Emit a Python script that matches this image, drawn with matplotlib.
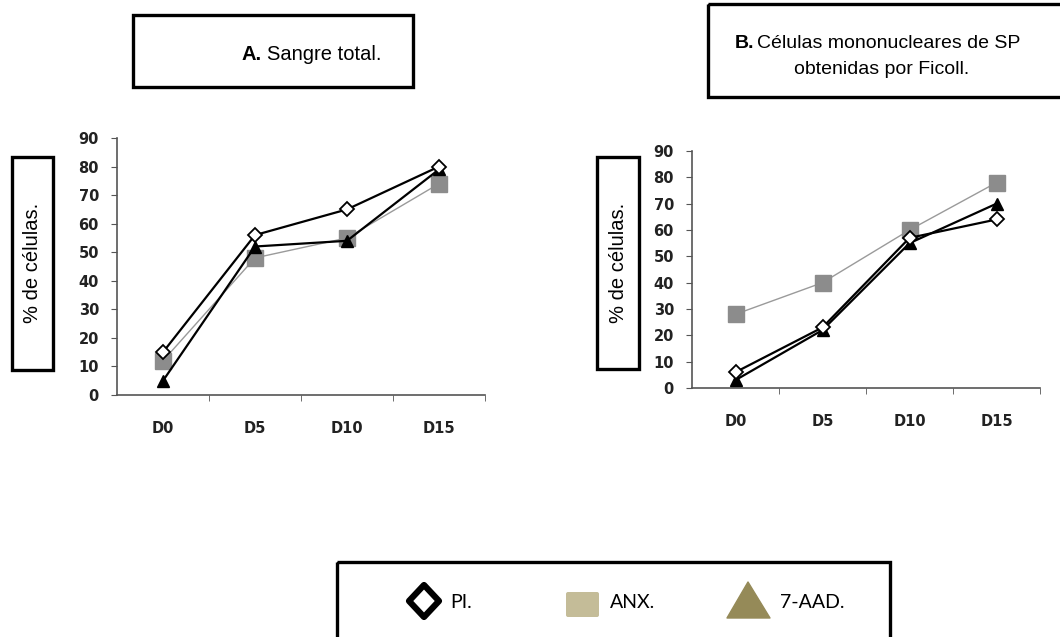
import matplotlib
matplotlib.use("Agg")
import matplotlib.pyplot as plt
from matplotlib.patches import Rectangle, Polygon, FancyBboxPatch

# % of cells per day, for the three stains
days = ["D0", "D5", "D10", "D15"]

sangre_pi = [15, 56, 65, 80]
sangre_anx = [12, 48, 55, 74]
sangre_aad = [5, 52, 54, 79]

ficoll_pi = [6, 23, 57, 64]
ficoll_anx = [28, 40, 60, 78]
ficoll_aad = [3, 22, 55, 70]

W, H = 1060, 637
fig = plt.figure(figsize=(W / 100, H / 100), dpi=100)


def px_axes(x0, y0, x1, y1):
    # pixel box (top-left origin) -> figure fraction
    return [x0 / W, 1 - y1 / H, (x1 - x0) / W, (y1 - y0) / H]


def line_panel(ax, pi, anx, aad):
    x = range(len(days))
    ax.plot(x, anx, color="#9a9a9a", lw=1.0, marker="s", ms=12,
            mfc="#8c8c8c", mec="#8c8c8c", zorder=2)
    ax.plot(x, aad, color="black", lw=1.6, marker="^", ms=9,
            mfc="black", mec="black", zorder=3)
    ax.plot(x, pi, color="black", lw=1.6, marker="D", ms=7.5,
            mfc="white", mec="black", mew=1.3, zorder=4)
    ax.set_xlim(-0.5, 3.5)
    ax.set_ylim(0, 90)
    ax.set_yticks(range(0, 91, 10))
    ax.set_xticks(list(x))
    ax.set_xticklabels(days)
    ax.set_xticks([0.5, 1.5, 2.5, 3.5], minor=True)
    for s in ("top", "right"):
        ax.spines[s].set_visible(False)
    for s in ("left", "bottom"):
        ax.spines[s].set_color("#555555")
        ax.spines[s].set_linewidth(1.2)
    ax.tick_params(axis="x", which="major", length=0, pad=19)
    ax.tick_params(axis="x", which="minor", length=4, color="#555555")
    ax.tick_params(axis="y", length=4, color="#555555", pad=9)
    for lab in ax.get_xticklabels() + ax.get_yticklabels():
        lab.set_fontfamily("DejaVu Sans")
        lab.set_fontweight("bold")
        lab.set_fontsize(10.5)
        lab.set_color("#222222")
    ax.patch.set_alpha(0)


ax_a = fig.add_axes(px_axes(117, 138, 485, 395))
line_panel(ax_a, sangre_pi, sangre_anx, sangre_aad)

ax_b = fig.add_axes(px_axes(692, 151, 1040, 388))
line_panel(ax_b, ficoll_pi, ficoll_anx, ficoll_aad)

# overlay in pixel units for the boxes and the legend
ov = fig.add_axes([0, 0, 1, 1], zorder=-1)
ov.set_xlim(0, W)
ov.set_ylim(H, 0)
ov.axis("off")

box_kw = dict(fill=False, edgecolor="black", lw=2.4)
ov.add_patch(Rectangle((133, 15), 280, 72, **box_kw))
ov.add_patch(Rectangle((708, 4), 360, 93, **box_kw))
ov.add_patch(Rectangle((12, 157), 41, 213, **box_kw))
ov.add_patch(Rectangle((597, 157), 42, 212, **box_kw))
ov.add_patch(Rectangle((337, 562), 553, 90, **box_kw))

tf = "Liberation Sans"
ov.text(242, 55, "A.", fontfamily=tf, fontweight="bold", fontsize=14.5,
        ha="left", va="center")
ov.text(267, 55, "Sangre total.", fontfamily=tf, fontsize=14.5,
        ha="left", va="center")
ov.text(735, 43, "B.", fontfamily=tf, fontweight="bold", fontsize=14,
        ha="left", va="center")
ov.text(757, 43, "Células mononucleares de SP", fontfamily=tf, fontsize=14,
        ha="left", va="center")
ov.text(882, 70, "obtenidas por Ficoll.", fontfamily=tf, fontsize=14,
        ha="center", va="center")

for cx in (32, 618):
    ov.text(cx, 263, "% de células.", fontfamily=tf, fontsize=14.5,
            rotation=90, ha="center", va="center")

# legend
ov.add_patch(Polygon([(424, 585), (439, 601), (424, 617), (409, 601)],
                     closed=True, facecolor="white", edgecolor="black",
                     lw=4.5, joinstyle="round"))
ov.add_patch(FancyBboxPatch((566, 592), 33, 25,
                            boxstyle="round,pad=0,rounding_size=2",
                            facecolor="#c4bc98", edgecolor="none"))
ov.add_patch(Polygon([(748, 582), (770, 618), (727, 618)], closed=True,
                     facecolor="#958a58", edgecolor="#958a58", lw=1,
                     joinstyle="round"))
lf = "Lato"
ov.text(450, 602, "PI.", fontfamily=lf, fontsize=14, ha="left", va="center")
ov.text(610, 602, "ANX.", fontfamily=lf, fontsize=14, ha="left", va="center")
ov.text(780, 602, "7-AAD.", fontfamily=lf, fontsize=14, ha="left", va="center")

fig.savefig("out.png", dpi=100, facecolor="white")
